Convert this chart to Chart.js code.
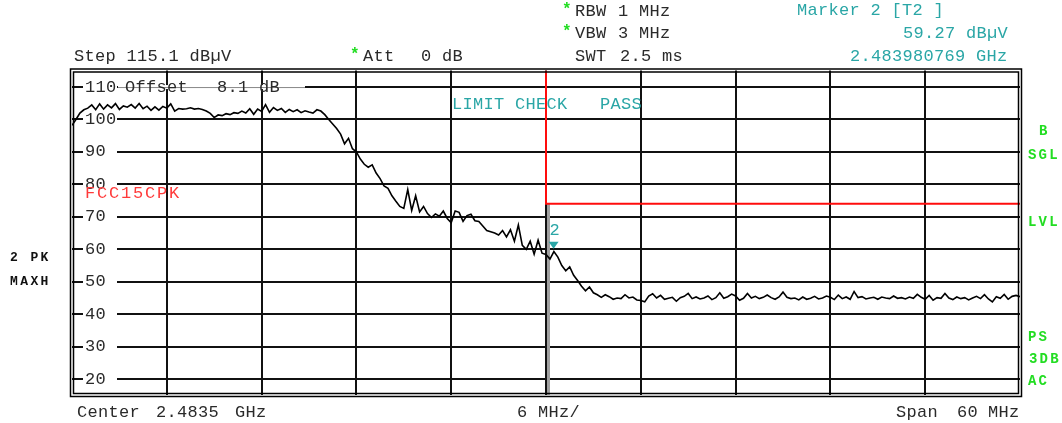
<!DOCTYPE html>
<html>
<head>
<meta charset="utf-8">
<script src="https://cdn.jsdelivr.net/npm/chart.js"></script>
<style>
  html, body { margin: 0; padding: 0; background: #fff; }
  canvas { display: block; }
</style>
</head>
<body>
<canvas id="spectrum" width="1062" height="423"></canvas>
<script>
// sweep: center 2.4835 GHz, span 60 MHz, values in MHz
const startFreq = 2453.5;
const stopFreq = 2513.5;
const pointStep = 0.25;
const freqTicks = [2453.5, 2459.5, 2465.5, 2471.5, 2477.5, 2483.5, 2489.5, 2495.5, 2501.5, 2507.5, 2513.5];

const levelMin = 15.1;
const levelMax = 115.1;
const levelTicks = [20, 30, 40, 50, 60, 70, 80, 90, 100, 110];

// max-hold trace, dBuV, one value every 0.25 MHz
const traceLevels = [
  98.2, 100.0, 102.0, 103.0, 103.5, 104.5, 103.0, 104.8, 103.2, 104.5, 103.6, 104.9,
  103.1, 104.2, 103.8, 104.6, 103.5, 104.9, 103.3, 104.1, 102.8, 103.9, 102.9, 104.0,
  103.5, 104.8, 102.6, 103.4, 103.2, 103.3, 103.6, 103.2, 103.4, 103.1, 102.6, 101.9,
  100.6, 101.4, 101.2, 101.8, 101.5, 102.1, 101.9, 102.6, 102.0, 103.3, 101.6, 103.2,
  102.5, 104.6, 102.2, 103.7, 102.8, 103.4, 102.2, 103.1, 102.4, 103.0, 102.1, 102.7,
  102.3, 102.0, 103.0, 102.6, 101.5, 100.0, 98.6, 97.2, 95.5, 92.5, 94.2, 91.0,
  90.0, 87.8, 86.2, 85.3, 86.0, 83.5, 81.8, 79.5, 78.8, 76.5, 74.8, 73.2,
  72.6, 78.4, 72.0, 76.5, 71.5, 73.2, 71.0, 69.8, 70.9, 70.2, 71.8, 69.5,
  68.2, 71.8, 71.4, 68.6, 70.4, 70.8, 68.8, 68.6, 67.2, 65.8, 65.4, 65.0,
  64.4, 65.8, 63.8, 66.0, 62.5, 67.5, 61.2, 60.0, 62.5, 58.5, 62.8, 58.8,
  58.4, 57.0, 59.3, 57.6, 55.0, 53.4, 54.6, 52.0, 50.4, 48.6, 47.2, 48.4,
  46.6, 46.0, 45.2, 46.0, 45.4, 44.6, 45.0, 44.8, 46.0, 45.0, 45.3, 44.4,
  44.2, 43.8, 45.6, 46.3, 45.0, 45.8, 44.6, 44.9, 45.2, 44.0, 45.1, 45.5,
  46.4, 44.8, 45.3, 44.7, 45.0, 45.6, 44.5, 45.1, 46.6, 44.9, 45.4, 46.2,
  45.6, 44.3, 44.9, 46.4, 45.0, 45.5, 44.8, 45.2, 45.9, 45.1, 44.6, 45.3,
  46.8, 45.2, 44.8, 45.0, 44.4, 45.3, 44.6, 44.9, 45.5, 44.7, 45.0, 45.6,
  45.2, 44.5, 45.9, 44.8, 45.3, 44.6, 47.0, 45.1, 45.4, 44.7, 45.0, 45.2,
  44.6, 45.3, 45.0, 44.8, 45.6, 44.9, 45.1, 44.7, 45.3, 44.9, 46.1, 45.2,
  44.6, 45.8, 44.3, 45.1, 44.9, 46.4, 45.0, 44.5, 45.3, 44.8, 45.1, 44.4,
  45.0, 45.5, 44.8, 46.0, 44.7, 43.8, 45.4, 44.9, 46.1, 44.6, 45.5, 45.8,
  45.4
];

// FCC15CPK limit line
const limitFreqs = [2483.5, 2483.5, 2513.5];
const limitLevels = [115.1, 74, 74];

// frequency display line below the limit
const flineFreq = 2483.66;

const markerFreq = 2483.980769;
const markerLevel = 59.27;

const MONO = '"Liberation Mono", "DejaVu Sans Mono", monospace';
const teal = '#2aa6a6';
const green = '#22dd22';
const ink = '#2a2a2a';

function txt(ctx, s, x, y, color, font, spacing) {
  ctx.font = font;
  ctx.letterSpacing = (spacing || 0) + 'px';
  ctx.fillStyle = color;
  ctx.textAlign = 'left';
  ctx.textBaseline = 'middle';
  ctx.fillText(s, x, y);
}

const main = '17px ' + MONO;
const sp = 0.3;

const labelsPlugin = {
  id: 'analyzerText',
  beforeDatasetsDraw(chart) {
    const ctx = chart.ctx;
    const ys = chart.scales.y;
    ctx.save();
    levelTicks.forEach(v => {
      const y = ys.getPixelForValue(v);
      ctx.fillStyle = '#fff';
      ctx.fillRect(83, y - 3, 34, 6);
      txt(ctx, String(v), 85, y, ink, main, sp);
    });
    // offset note sits on the 110 line
    const y110 = ys.getPixelForValue(110);
    ctx.fillStyle = '#fff';
    ctx.fillRect(118, y110 - 2, 187, 4);
    ctx.strokeStyle = '#888';
    ctx.lineWidth = 1;
    ctx.beginPath();
    ctx.moveTo(118, y110 + 0.5);
    ctx.lineTo(305, y110 + 0.5);
    ctx.stroke();
    txt(ctx, 'Offset', 125, y110, ink, main, sp);
    txt(ctx, '8.1', 217, y110, ink, main, sp);
    txt(ctx, 'dB', 259, y110, ink, main, sp);
    ctx.restore();
  },
  afterDraw(chart) {
    const ctx = chart.ctx;
    const a = chart.chartArea;
    const xs = chart.scales.x;
    const ys = chart.scales.y;
    ctx.save();

    // double frame
    ctx.strokeStyle = '#000';
    ctx.lineWidth = 1.5;
    ctx.strokeRect(a.left - 1.5, a.top - 1.5, a.right - a.left + 3, a.bottom - a.top + 3);
    ctx.strokeRect(a.left + 1.5, a.top + 1.5, a.right - a.left - 3, a.bottom - a.top - 3);

    // header
    const star = 'bold 16px ' + MONO;
    txt(ctx, 'Step 115.1 dB\u00b5V', 74, 56, ink, main, sp);
    txt(ctx, '*', 350, 55, green, star, 0);
    txt(ctx, 'Att', 363, 56, ink, main, sp);
    txt(ctx, '0 dB', 421, 56, ink, main, sp);
    txt(ctx, '*', 562, 10, green, star, 0);
    txt(ctx, 'RBW', 575, 11, ink, main, sp);
    txt(ctx, '1 MHz', 618, 11, ink, main, sp);
    txt(ctx, '*', 562, 32, green, star, 0);
    txt(ctx, 'VBW', 575, 33, ink, main, sp);
    txt(ctx, '3 MHz', 618, 33, ink, main, sp);
    txt(ctx, 'SWT', 575, 56, ink, main, sp);
    txt(ctx, '2.5 ms', 620, 56, ink, main, sp);
    txt(ctx, 'Marker 2 [T2 ]', 797, 10, teal, main, sp);
    txt(ctx, '59.27 dB\u00b5V', 903, 33, teal, main, sp);
    txt(ctx, '2.483980769 GHz', 850, 56, teal, main, sp);

    // footer
    txt(ctx, 'Center', 77, 412, ink, main, sp);
    txt(ctx, '2.4835', 156, 412, ink, main, sp);
    txt(ctx, 'GHz', 235, 412, ink, main, sp);
    txt(ctx, '6 MHz/', 517, 412, ink, main, sp);
    txt(ctx, 'Span', 896, 412, ink, main, sp);
    txt(ctx, '60', 957, 412, ink, main, sp);
    txt(ctx, 'MHz', 988, 412, ink, main, sp);

    // trace info, left side
    const sideL = 'bold 13px ' + MONO;
    txt(ctx, '2 PK', 10, 258, '#111', sideL, 2.4);
    txt(ctx, 'MAXH', 10, 282, '#111', sideL, 2.4);

    // status, right side
    const sideR = 'bold 14px ' + MONO;
    txt(ctx, 'B', 1039, 131, green, sideR, 2.2);
    txt(ctx, 'SGL', 1028, 155, green, sideR, 2.2);
    txt(ctx, 'LVL', 1028, 222, green, sideR, 2.2);
    txt(ctx, 'PS', 1028, 337, green, sideR, 2.2);
    txt(ctx, '3DB', 1029, 359, green, sideR, 2.2);
    txt(ctx, 'AC', 1028, 381, green, sideR, 2.2);

    // limit annotations
    txt(ctx, 'FCC15CPK', 85, 193, '#ff3a3a', main, 1.8);
    txt(ctx, 'LIMIT CHECK', 452, 104, teal, main, sp);
    txt(ctx, 'PASS', 600, 104, teal, main, sp);

    // marker 2
    const mx = xs.getPixelForValue(markerFreq);
    const my = ys.getPixelForValue(markerLevel);
    ctx.fillStyle = teal;
    ctx.beginPath();
    ctx.moveTo(mx - 5, my - 10);
    ctx.lineTo(mx + 5, my - 10);
    ctx.lineTo(mx, my - 3);
    ctx.closePath();
    ctx.fill();
    txt(ctx, '2', mx - 4, my - 21, teal, main, 0);

    ctx.restore();
  }
};

const traceData = traceLevels.map((v, i) => ({ x: startFreq + i * pointStep, y: v }));
const limitData = limitFreqs.map((f, i) => ({ x: f, y: limitLevels[i] }));
const flineData = [{ x: flineFreq, y: 74 }, { x: flineFreq, y: levelMin }];

const lastX = freqTicks.length - 1;

new Chart(document.getElementById('spectrum').getContext('2d'), {
  type: 'line',
  data: {
    datasets: [
      {
        label: 'trace',
        data: traceData,
        borderColor: '#000',
        borderWidth: 1.6,
        pointRadius: 0,
        tension: 0,
        fill: false
      },
      {
        label: 'limit',
        data: limitData,
        borderColor: '#ff0d0d',
        borderWidth: 2,
        pointRadius: 0,
        tension: 0,
        fill: false
      },
      {
        label: 'fline',
        data: flineData,
        borderColor: '#a0a0a0',
        borderWidth: 3,
        pointRadius: 0,
        fill: false
      }
    ]
  },
  options: {
    responsive: false,
    animation: false,
    devicePixelRatio: 1,
    layout: {
      autoPadding: false,
      padding: { left: 72, right: 42, top: 70.5, bottom: 28 }
    },
    scales: {
      x: {
        type: 'linear',
        min: startFreq,
        max: stopFreq,
        afterBuildTicks: s => { s.ticks = freqTicks.map(v => ({ value: v })); },
        ticks: { display: false },
        border: { display: false },
        grid: {
          drawTicks: false,
          lineWidth: 2,
          color: c => (c.index === 0 || c.index === lastX) ? 'rgba(0,0,0,0)' : '#111'
        }
      },
      y: {
        type: 'linear',
        min: levelMin,
        max: levelMax,
        afterBuildTicks: s => { s.ticks = levelTicks.map(v => ({ value: v })); },
        ticks: { display: false },
        border: { display: false },
        grid: { drawTicks: false, lineWidth: 2, color: '#111' }
      }
    },
    plugins: {
      legend: { display: false },
      tooltip: { enabled: false }
    }
  },
  plugins: [labelsPlugin]
});
</script>
</body>
</html>
